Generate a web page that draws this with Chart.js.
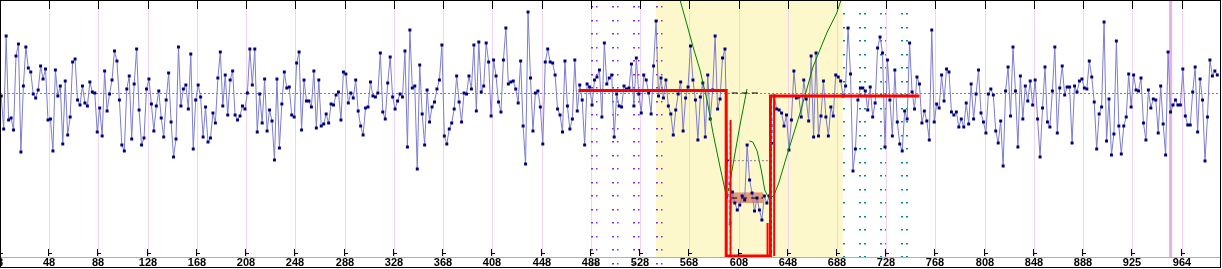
<!DOCTYPE html>
<html lang="en">
<head>
<meta charset="UTF-8">
<title>Trace</title>
<script src="https://cdn.jsdelivr.net/npm/chart.js"></script>
<style>
  html, body { margin: 0; padding: 0; background: #fff; }
  canvas { display: block; }
</style>
</head>
<body>
<canvas id="trace" width="1222" height="269"></canvas>
<script>
// axis ticks (sample numbers) and the text printed under them
const tickPos = [8, 48, 88, 128, 168, 208, 248, 288, 328, 368, 408, 448, 488, 528, 568, 608, 648, 688, 728, 768, 808, 848, 888, 928, 968];
const tickText = ['8', '48', '88', '128', '168', '208', '248', '288', '328', '368', '408', '448', '488', '528', '568', '608', '648', '688', '728', '768', '808', '848', '888', '925', '964'];

// samples: one value every 2 steps starting at 9
const firstSample = 9;
const sampleStep = 2;
const valuesA = [
  -3, -36, 57, -27, -25, -37, 37, 49, -59, 7,
  46, 25, 21, -1, -5, 3, 27, 14, 24, -27,
  -26, -58, 23, -3, 7, -51, 12, -42, -24, 31,
  34, -7, -12, 7, -10, -13, 11, 1, 0, -39,
  -15, -43, 22, -18, -1, 13, 42, 32, -7, -52,
  -58, 4, 17, -46, 9, 44, -17, -52, -45, 4,
  14, -11, -38, -13, 2, -25, -44, -7, 20, -29,
  -64, -46, 46, -13, 4, 8, -16, 39, -56, -7,
  8, -4, -44, -14, -49, -45, -20, -30, 15, 41,
  -13, 18, -22, 13, 22, -22, -27, -23, -13, -16,
  0, 44, 8, 44, -39, -1, -30, 14, -38, -17,
  -28, -67, 14, -55, -11, 21, 5, 6, -22, -24,
  30, 41
];
const valuesB = [
  -37, 13, -8, -8, -14, 22, -35, 13, -33, -31,
  -21, -30, -11, -12, -2, 1, -27, 21, 19, -10,
  0, -5, 13, -18, -33, -42, -15, -14, 11, -3,
  -4, 0, 40, -19, -26, 10, 36, -4, -16, -8,
  -1, -4, 42, -54, 63, 5, 7, -76, 28, -21,
  -52, 3, -29, -14, -9, 4, 13, 48, -43, -51,
  -36, -30, -16, 17, -9, -29, 0, -1, 17, 4,
  48, -18, 51, 1, 7, 50, 31, -23, 33, 17,
  -9, -19, 33, 65, 9, 11, 12, 4, -10, 32,
  -33, -71, 81, 15, -38, 0, 2, -14, -51, 31,
  44, 31, 30, 18, -16
];
const valuesC = [
  -22, -39, 32, -13, -36, -26, 33, -18, 8, -7,
  -52, 9, 6, -12, 13, 16, 23, -24, 50, 9,
  15, 18, -44, -1, -13, -14, 7, 4, 5, 29,
  -13, 35, -1, -20, 18, 13, 0, -21, 27, 72,
  -3, 15, -5, 13, -13, -21, -42, -17, -1, 11,
  -38, -5, 6, 47, 13, -7, -47, -4, 10, -44,
  18, -26, 3, 57, -16, -6, 35, 44,
  -68, -130, -99, -110, -117, -112, -103, -107, -52, -87,
  -100, -118, -105, -117, -127, -103, -110, -103, -50, -3,
  -16, -17, -20, -33, -22, -57, -27, 22, -5, -4,
  -24, 13, -6, -28, 37, -44, 40, -43, -23, 12,
  -24, -43, -14, -23, 18, 16, 12, -3, 7, 65,
  19, -78, -56, -7, 5, 5, 2, -17, 6, -24,
  -10
];
const valuesD = [
  45, 56, 40, -54, 33, -7, -43, 23, -29, -51,
  -58, -18, -26, 50, 1, -16, 16, 9, -30, -18,
  -28, -47, 63, -29, -11, -15, 18, -8, 24, 21,
  -19, -22, -19, -34, -26, -34, -10, -31, 9, -26,
  -1, 23, -20, -29, -40, -1, 4, -2, -38, -50,
  -28, -73, 2, 26, -23, 46, 2, -54, 17, -26,
  7, -8, 12, -12, 13, -26, -64, -15, 26, -29,
  -34, 2, 46, -40, 5, 27, -2, 6, 6, -50,
  7, 1, 12, 14, 5, 4, 32, 16, -9, -56,
  -21, -14, 71, -48, -6, -62, -41, 52, -33, -61,
  -33, -24, 19, -14, 18, 3, 2, 15, -30, -47,
  3, -15, -6, -7, -40, 7, -31, -62, 41, -19,
  -12, -7, -12, -12, 24, -23, -32, -32, 1, 26,
  -39, 14, -7, -68, -24, 33, 17, 22, 18
];
const seriesValues = valuesA.concat(valuesB, valuesC, valuesD);

// level step (red)
const stepX = [478, 598, 598, 634, 634, 755];
const stepY = [2.5, 2.5, -163, -163, -3, -3];
const edgeX = [601.5, 601.5, 601.5, 631.6, 631.6, 631.6, 637, 637];
const edgeY = [-27, -163, null, -130, -163, null, -3, -163];
const edgeDashX = [600.1, 600.1, 600.1, 635.5, 635.5];
const edgeDashY = [-20, -163, null, -10, -163];

// fitted curves (green)
const fitAX = [558.9, 560.5, 566.2, 571.1, 576.7, 582.4, 587.3, 593, 598.7, 603.5, 609.2, 614.9];
const fitAY = [101, 93, 68, 46, 23, -7, -40, -74, -106, -72, -32, 4];
const fitBX = [616.8, 619.6, 623.1, 626.5, 629.3, 632.5, 636.6, 640.7, 647.2, 658, 668.8, 679.7, 687.8, 692.1];
const fitBY = [-48, -49, -58, -77, -97, -105, -103, -90, -63, -20, 27, 60, 80, 96];

// reference levels inside the gap
const refX = [602.5, 624, 624, 602, 628];
const refY = [0, 0, null, -105, -105];
const midX = [601, 633.6];
const midY = [-67.7, -67.7];
const boxX = [602.5, 628];
const boxY = [-110, -99.4];

// shaded window, marker, guide columns
const shadeFrom = 541, shadeTo = 692.7;
const markerFrom = 957.8, markerTo = 960.3;
const guideA = [488.2, 505.3, 522.3, 541];
const guideB = [689, 706.2, 723.3, 740.3];

const pts = (xs, ys) => xs.map((v, i) => ({ x: v, y: ys[i] }));

const decor = {
  id: 'decor',
  beforeDatasetsDraw(chart) {
    const { ctx, chartArea: a, scales: { x, y } } = chart;
    ctx.save();
    // teal guides (sit under the shading)
    ctx.fillStyle = 'rgb(0,140,140)';
    guideB.forEach(g => {
      const px = Math.round(x.getPixelForValue(g));
      for (let k = 0; k < 19; k++) {
        const py = Math.round(13 + 13.5 * k);
        ctx.fillRect(px, py, 2, 1.5);
        ctx.fillRect(px + 5, py, 2, 1.5);
      }
    });
    const s0 = x.getPixelForValue(shadeFrom), s1 = x.getPixelForValue(shadeTo);
    ctx.fillStyle = 'rgb(253,248,204)';
    ctx.fillRect(s0, a.top, s1 - s0, a.bottom - a.top);

    ctx.fillStyle = 'rgb(240,212,240)';
    tickPos.forEach(t => {
      const px = Math.round(x.getPixelForValue(t)) + 1;
      ctx.fillRect(px - 1, a.top, 1, a.bottom - a.top);
    });
    const m0 = x.getPixelForValue(markerFrom), m1 = x.getPixelForValue(markerTo);
    ctx.fillStyle = 'rgb(232,178,232)';
    ctx.fillRect(m0, a.top, m1 - m0, a.bottom - a.top);

    ctx.fillStyle = 'rgb(140,40,230)';
    guideA.forEach(g => {
      const px = Math.round(x.getPixelForValue(g));
      for (let k = 0; k < 20; k++) {
        const py = Math.round(6 + 13.5 * k);
        ctx.fillRect(px, py, 2, 1.5);
        ctx.fillRect(px + 5, py, 1.5, 1.5);
      }
    });

    // center line
    const yc = Math.round(y.getPixelForValue(0)) + 0.5;
    ctx.strokeStyle = '#808080';
    ctx.lineWidth = 1;
    ctx.setLineDash([2, 2]);
    ctx.beginPath();
    ctx.moveTo(a.left, yc);
    ctx.lineTo(a.right, yc);
    ctx.stroke();
    ctx.setLineDash([]);

    const bx0 = x.getPixelForValue(boxX[0]), bx1 = x.getPixelForValue(boxX[1]);
    const by0 = y.getPixelForValue(boxY[1]), by1 = y.getPixelForValue(boxY[0]);
    ctx.fillStyle = 'rgb(230,152,122)';
    ctx.fillRect(bx0, by0, bx1 - bx0, by1 - by0);
    ctx.restore();
  },
  afterDatasetsDraw(chart) {
    const { ctx, chartArea: a, scales: { x } } = chart;
    ctx.save();
    ctx.fillStyle = 'rgb(245,165,35)';
    ctx.fillRect(0, a.bottom, a.right, 1);
    ctx.fillStyle = '#000';
    ctx.font = 'bold 11px "Liberation Sans", Arial, sans-serif';
    ctx.textAlign = 'center';
    ctx.textBaseline = 'alphabetic';
    tickPos.forEach((t, i) => {
      const px = Math.round(x.getPixelForValue(t));
      ctx.fillRect(px, 0, 1, 9);
      ctx.fillRect(px - 1, a.bottom - 8, 1, 7);
      ctx.fillRect(px - 1, a.bottom - 4, 4, 1);
      ctx.fillText(tickText[i], px, 266);
    });
    ctx.strokeStyle = '#000';
    ctx.lineWidth = 1;
    ctx.strokeRect(0.5, 0.5, 1220, 267);
    ctx.restore();
  }
};

new Chart(document.getElementById('trace'), {
  type: 'line',
  data: {
    datasets: [
      { data: pts(edgeDashX, edgeDashY), borderColor: '#fff', borderWidth: 1, borderDash: [3, 3], pointRadius: 0, order: 0 },
      { data: pts(stepX, stepY), borderColor: '#ff0000', borderWidth: 3, pointRadius: 0, order: 1 },
      { data: pts(edgeX, edgeY), borderColor: '#ff0000', borderWidth: 2, pointRadius: 0, order: 1 },
      { data: pts(refX, refY), borderColor: '#000', borderWidth: 1, borderDash: [6, 4], pointRadius: 0, order: 2 },
      { data: pts(midX, midY), borderColor: '#808080', borderWidth: 1, borderDash: [2, 2], pointRadius: 0, order: 2 },
      { data: pts(fitAX, fitAY), borderColor: '#008000', borderWidth: 1, pointRadius: 0, order: 3 },
      { data: pts(fitBX, fitBY), borderColor: '#008000', borderWidth: 1, pointRadius: 0, order: 3 },
      {
        data: seriesValues.map((v, i) => ({ x: firstSample + i * sampleStep, y: v })),
        borderColor: 'rgb(125,125,205)',
        borderWidth: 1,
        pointStyle: 'rect',
        pointRadius: 2.1,
        pointBorderWidth: 0,
        pointBackgroundColor: '#000080',
        order: 5
      }
    ]
  },
  options: {
    responsive: false,
    animation: false,
    spanGaps: false,
    layout: { autoPadding: false, padding: { left: 0, top: 0, right: 1, bottom: 12 } },
    plugins: { legend: { display: false }, tooltip: { enabled: false } },
    elements: { line: { tension: 0 } },
    scales: {
      x: { type: 'linear', min: 8, max: 1000, display: false },
      y: { type: 'linear', min: -164, max: 93, display: false }
    }
  },
  plugins: [decor]
});
</script>
</body>
</html>
